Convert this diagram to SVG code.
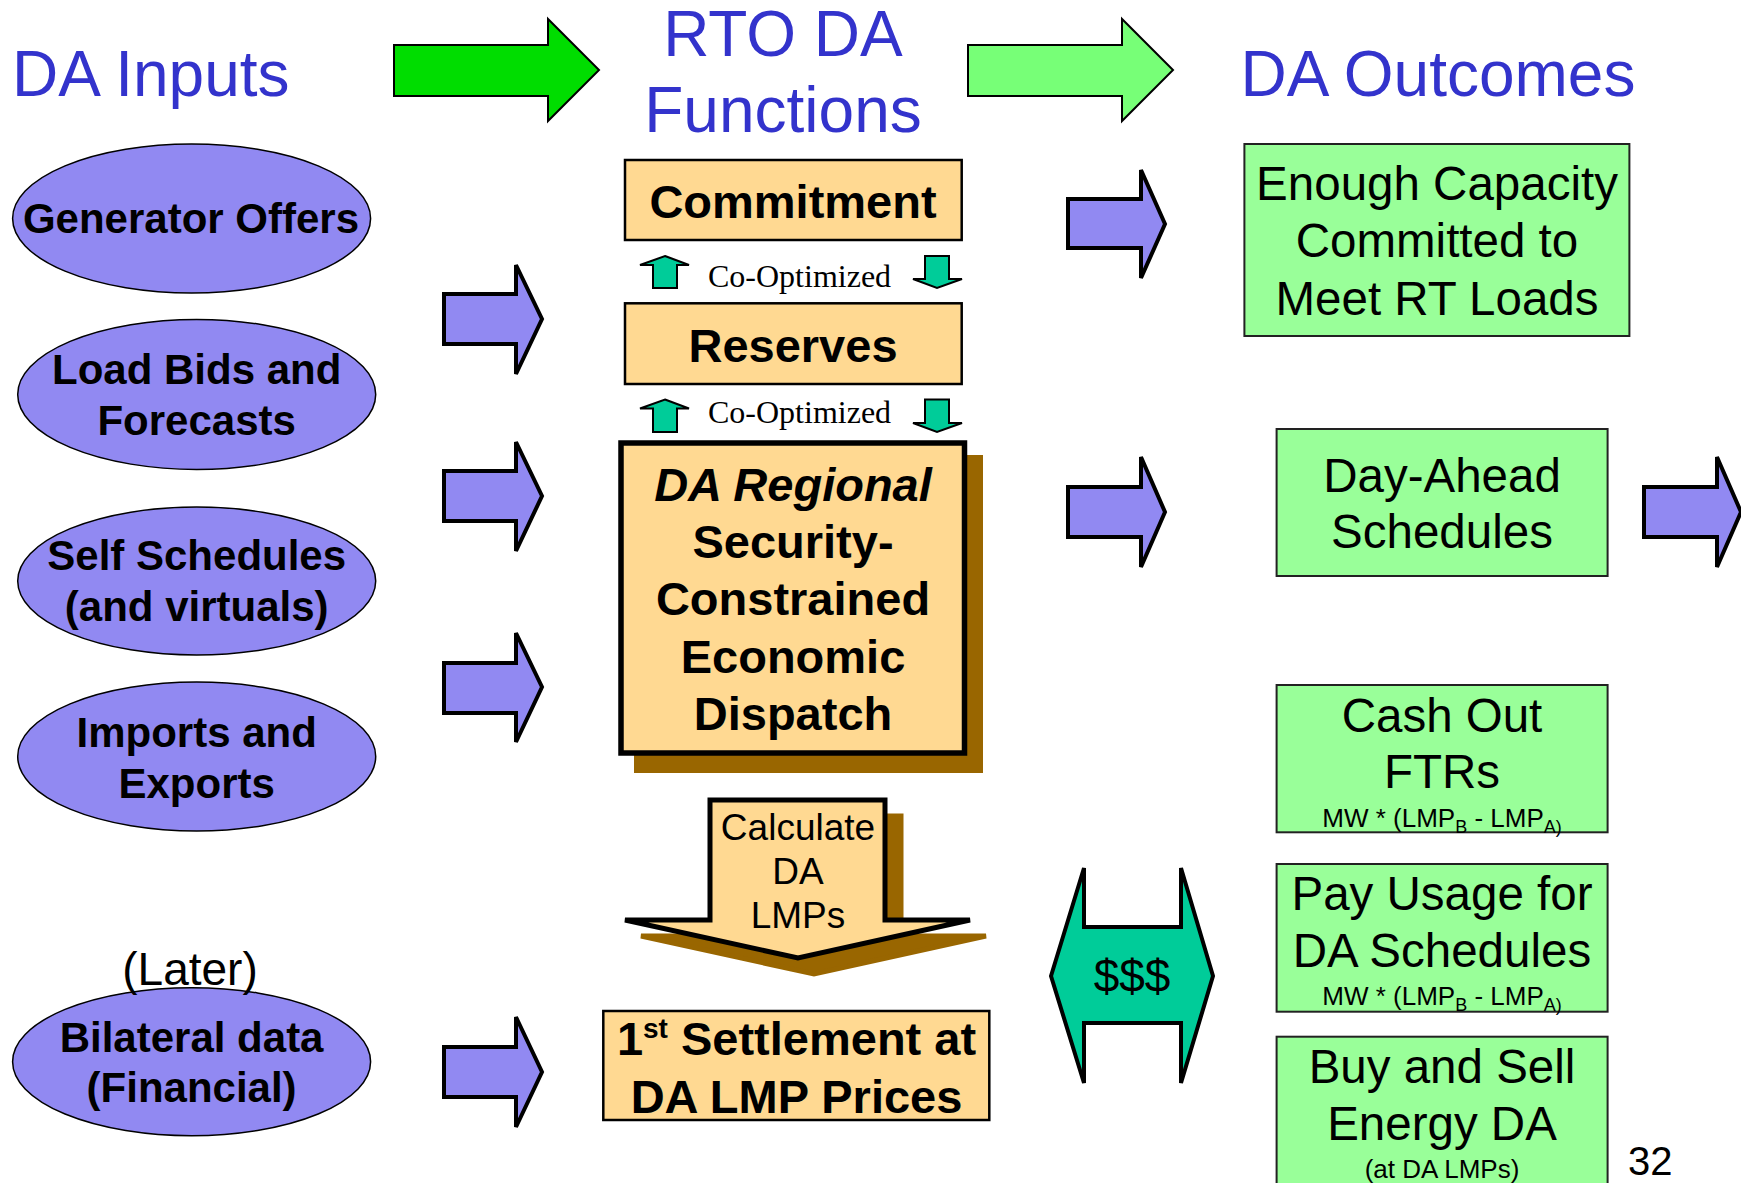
<svg xmlns="http://www.w3.org/2000/svg" width="1741" height="1183" viewBox="0 0 1741 1183">
<style>
text{font-family:"Liberation Sans",Arial,sans-serif;fill:#000}
.title{font-size:64px;fill:#3333CC}
.eb{font-size:42px;font-weight:bold;text-anchor:middle}
.yb{font-size:47px;font-weight:bold;text-anchor:middle}
.g{font-size:47.5px;text-anchor:middle}
.sm{font-size:26px;text-anchor:middle}
.co{font-family:"Liberation Serif","Times New Roman",serif;font-size:32px}
.ell{fill:#9189F2;stroke:#000;stroke-width:1.5}
.ybox{fill:#FFD992;stroke:#000;stroke-width:2.5}
.gbox{fill:#99FF99;stroke:#222;stroke-width:2}
.parr{fill:#9189F2;stroke:#000;stroke-width:4;stroke-linejoin:miter}
.tarr{fill:#00CC99;stroke:#000;stroke-width:2}
.shadow{fill:#996600}
</style>

<g id="titles">
<text class="title" x="12" y="96">DA Inputs</text>
<text class="title" x="783" y="56" text-anchor="middle">RTO DA</text>
<text class="title" x="783" y="132" text-anchor="middle">Functions</text>
<text class="title" x="1438" y="96" text-anchor="middle">DA Outcomes</text>
</g>

<g id="generator-offers">
<ellipse class="ell" cx="191.6" cy="218.5" rx="179" ry="74.5"/>
<text class="eb" x="191" y="233">Generator Offers</text>
</g>
<g id="load-bids">
<ellipse class="ell" cx="196.7" cy="394.4" rx="179" ry="75"/>
<text class="eb" x="196.7" y="384">Load Bids and</text>
<text class="eb" x="196.7" y="435">Forecasts</text>
</g>
<g id="self-schedules">
<ellipse class="ell" cx="196.7" cy="581" rx="179" ry="74"/>
<text class="eb" x="196.7" y="570">Self Schedules</text>
<text class="eb" x="196.7" y="621">(and virtuals)</text>
</g>
<g id="imports-exports">
<ellipse class="ell" cx="196.7" cy="756.5" rx="179" ry="74.5"/>
<text class="eb" x="196.7" y="747">Imports and</text>
<text class="eb" x="196.7" y="798">Exports</text>
</g>
<g id="bilateral">
<ellipse class="ell" cx="191.6" cy="1061.7" rx="179" ry="74"/>
<text class="eb" x="191.6" y="1051.7">Bilateral data</text>
<text class="eb" x="191.6" y="1101.7">(Financial)</text>
<text x="190" y="985" font-size="46" text-anchor="middle">(Later)</text>
</g>

<g id="commitment">
<rect class="ybox" x="625" y="160" width="336.7" height="80"/>
<text class="yb" x="793" y="218">Commitment</text>
</g>
<g id="reserves">
<rect class="ybox" x="625" y="303.3" width="336.7" height="80.7"/>
<text class="yb" x="793" y="361.7">Reserves</text>
</g>
<g id="co-optimized-1">
<polygon class="tarr" points="665,256 689,265 677,265 677,288 653,288 653,265 640,265"/>
<text class="co" x="708" y="286.7">Co-Optimized</text>
<polygon class="tarr" points="925,256 949,256 949,279 962,279 937,288 913,279 925,279"/>
</g>
<g id="co-optimized-2">
<polygon class="tarr" points="665,399.5 689,408.5 677,408.5 677,432 653,432 653,408.5 640,408.5"/>
<text class="co" x="708" y="423.3">Co-Optimized</text>
<polygon class="tarr" points="925,399.5 949,399.5 949,423 962,423 937,432 913,423 925,423"/>
</g>
<g id="scued">
<rect class="shadow" x="634" y="455" width="349" height="318"/>
<rect x="621" y="443" width="343.5" height="310" fill="#FFD992" stroke="#000" stroke-width="5.5"/>
<text class="yb" x="793" y="500.7" font-style="italic" font-size="48">DA Regional</text>
<text class="yb" x="793" y="558.3">Security-</text>
<text class="yb" x="793" y="615">Constrained</text>
<text class="yb" x="793" y="673.3">Economic</text>
<text class="yb" x="793" y="730">Dispatch</text>
</g>
<g id="calculate-lmps">
<polygon class="shadow" stroke="#996600" stroke-width="5" points="726,816 901,816 901,936 986,936 814,974 641,936 726,936"/>
<polygon fill="#FFD992" stroke="#000" stroke-width="5" points="710,800 885,800 885,920 970,920 798,958 625,920 710,920"/>
<text x="798" y="840" font-size="37" text-anchor="middle">Calculate</text>
<text x="798" y="884" font-size="37" text-anchor="middle">DA</text>
<text x="798" y="928" font-size="37" text-anchor="middle">LMPs</text>
</g>
<g id="settlement">
<rect class="ybox" x="603.3" y="1011" width="386" height="109"/>
<text class="yb" x="796.5" y="1055">1<tspan font-size="28" dy="-17">st</tspan><tspan dy="17"> Settlement at</tspan></text>
<text class="yb" x="796.5" y="1113.3">DA LMP Prices</text>
</g>

<g id="enough-capacity">
<rect class="gbox" x="1244.4" y="144" width="385" height="192"/>
<text class="g" x="1437" y="200">Enough Capacity</text>
<text class="g" x="1437" y="257.3">Committed to</text>
<text class="g" x="1437" y="315">Meet RT Loads</text>
</g>
<g id="day-ahead-schedules">
<rect class="gbox" x="1276.6" y="429" width="331" height="147"/>
<text class="g" x="1442" y="491.7">Day-Ahead</text>
<text class="g" x="1442" y="548.3">Schedules</text>
</g>
<g id="cash-out-ftrs">
<rect class="gbox" x="1276.6" y="685" width="331" height="147.3"/>
<text class="g" x="1442" y="731.7">Cash Out</text>
<text class="g" x="1442" y="788.3">FTRs</text>
<text class="sm" x="1442" y="826.7">MW * (LMP<tspan font-size="18" dy="6">B</tspan><tspan dy="-6"> - LMP</tspan><tspan font-size="18" dy="6">A)</tspan></text>
</g>
<g id="pay-usage">
<rect class="gbox" x="1276.6" y="864" width="331" height="147.7"/>
<text class="g" x="1442" y="910">Pay Usage for</text>
<text class="g" x="1442" y="967.3">DA Schedules</text>
<text class="sm" x="1442" y="1005">MW * (LMP<tspan font-size="18" dy="6">B</tspan><tspan dy="-6"> - LMP</tspan><tspan font-size="18" dy="6">A)</tspan></text>
</g>
<g id="buy-sell">
<rect class="gbox" x="1276.6" y="1036.7" width="331" height="160"/>
<text class="g" x="1442" y="1083.3">Buy and Sell</text>
<text class="g" x="1442" y="1140">Energy DA</text>
<text class="sm" x="1442" y="1178">(at DA LMPs)</text>
</g>
<g id="money">
<polygon fill="#00CC99" stroke="#000" stroke-width="4" points="1051,976 1084,868 1084,927 1181,927 1181,868 1213,976 1181,1083 1181,1023 1084,1023 1084,1083"/>
<text x="1132" y="991.7" font-size="46" text-anchor="middle">$$$</text>
</g>
<g id="page-number">
<text x="1628" y="1175" font-size="40">32</text>
</g>

<g id="connectors">
<polygon fill="#00DD00" stroke="#000" stroke-width="2" points="394,45 548,45 548,19 599,70 548,121 548,96 394,96"/>
<polygon fill="#77FF77" stroke="#000" stroke-width="2" points="968,45 1122,45 1122,19 1173,70 1122,121 1122,96 968,96"/>
<polygon class="parr" points="444,294 516,294 516,265 542,319 516,374 516,344 444,344"/>
<polygon class="parr" points="444,471 516,471 516,442 542,496 516,551 516,521 444,521"/>
<polygon class="parr" points="444,663 516,663 516,633 542,687 516,742 516,713 444,713"/>
<polygon class="parr" points="444,1047 516,1047 516,1017 542,1072 516,1127 516,1097 444,1097"/>
<polygon class="parr" points="1068,199 1141,199 1141,170 1165,224 1141,278 1141,248 1068,248"/>
<polygon class="parr" points="1068,487 1141,487 1141,457 1165,512 1141,567 1141,537 1068,537"/>
<polygon class="parr" points="1644,487 1717,487 1717,457 1741,512 1717,567 1717,537 1644,537"/>
</g>
</svg>
